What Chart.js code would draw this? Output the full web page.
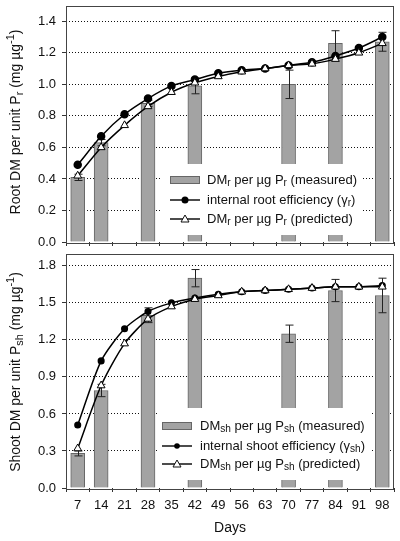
<!DOCTYPE html>
<html>
<head>
<meta charset="utf-8">
<script src="https://cdn.jsdelivr.net/npm/chart.js@4.4.0/dist/chart.umd.min.js"></script>
<style>
  body { margin: 0; background: #fff; }
  #wrap { position: relative; width: 400px; height: 541px; }
  canvas { position: absolute; left: 0; }
</style>
</head>
<body>
<div id="wrap">
  <canvas id="rootChart" width="400" height="248" style="top:0"></canvas>
  <canvas id="shootChart" width="400" height="293" style="top:248px"></canvas>
</div>
<script>
// data
const days = [7, 14, 21, 28, 35, 42, 49, 56, 63, 70, 77, 84, 91, 98];

const rootMeasured    = [0.41, 0.63, null, 0.88, null, 0.99, null, null, null, 1.00, null, 1.26, null, 1.27];
const rootMeasuredErr = [0.02, 0.02, null, 0.02, null, 0.05, null, null, null, 0.09, null, 0.08, null, 0.06];
const rootEfficiency  = [0.49, 0.67, 0.81, 0.91, 0.99, 1.03, 1.07, 1.09, 1.10, 1.12, 1.14, 1.18, 1.23, 1.30];
const rootPredicted   = [0.42, 0.60, 0.74, 0.86, 0.95, 1.01, 1.05, 1.08, 1.10, 1.12, 1.13, 1.16, 1.20, 1.26];

const shootMeasured    = [0.28, 0.79, null, 1.40, null, 1.70, null, null, null, 1.25, null, 1.60, null, 1.56];
const shootMeasuredErr = [0.02, 0.05, null, 0.06, null, 0.07, null, null, null, 0.07, null, 0.09, null, 0.14];
const shootEfficiency  = [0.51, 1.03, 1.29, 1.43, 1.50, 1.54, 1.57, 1.59, 1.60, 1.61, 1.62, 1.63, 1.63, 1.64];
const shootPredicted   = [0.32, 0.83, 1.17, 1.37, 1.47, 1.53, 1.56, 1.59, 1.60, 1.61, 1.62, 1.63, 1.63, 1.63];

const rootTicks  = [0, 0.2, 0.4, 0.6, 0.8, 1.0, 1.2, 1.4];
const shootTicks = [0, 0.3, 0.6, 0.9, 1.2, 1.5, 1.8];

const FONT = "'Liberation Sans', Arial, sans-serif";
const BAR_FILL = '#a3a3a3';
const BAR_EDGE = '#666';

// text with sub/superscripts: parts = [[text, 'n'|'sub'|'sup'], ...]
function richWidth(ctx, parts, size) {
    let w = 0;
    parts.forEach(([t, k]) => {
        ctx.font = (k === 'n' ? size : size * 0.78) + 'px ' + FONT;
        w += ctx.measureText(t).width;
    });
    return w;
}
function drawRich(ctx, parts, x, y, size) {
    ctx.textBaseline = 'middle';
    ctx.textAlign = 'left';
    parts.forEach(([t, k]) => {
        const s = k === 'n' ? size : size * 0.78;
        ctx.font = s + 'px ' + FONT;
        const dy = k === 'sub' ? size * 0.28 : (k === 'sup' ? -size * 0.38 : 0);
        ctx.fillText(t, x, y + dy);
        x += ctx.measureText(t).width;
    });
}

const panelPlugin = {
    id: 'panel',
    afterDatasetDraw(chart, args, opts) {
        if (args.index !== 0) return;
        // error bars on the measured bars
        const ctx = chart.ctx, x = chart.scales.x, y = chart.scales.y;
        ctx.save();
        ctx.strokeStyle = '#222';
        ctx.lineWidth = 1;
        opts.values.forEach((v, i) => {
            const e = opts.errors[i];
            if (v == null || e == null) return;
            const px = Math.round(x.getPixelForValue(i)) + 0.5;
            const yt = y.getPixelForValue(v + e), yb = y.getPixelForValue(v - e);
            ctx.beginPath();
            ctx.moveTo(px, yt); ctx.lineTo(px, yb);
            ctx.moveTo(px - 4, yt); ctx.lineTo(px + 4, yt);
            ctx.moveTo(px - 4, yb); ctx.lineTo(px + 4, yb);
            ctx.stroke();
        });
        ctx.restore();
    },
    afterDatasetsDraw(chart, args, opts) {
        const ctx = chart.ctx, a = chart.chartArea, L = opts.legend;
        ctx.save();
        // legend box covers bars and grid
        ctx.fillStyle = '#fff';
        ctx.fillRect(L.x, L.y, L.w, L.h);
        L.rows.forEach((row, i) => {
            const ry = L.rowY[i];
            const sx = L.symX, sw = 30;
            if (i === 0) {
                ctx.fillStyle = BAR_FILL;
                ctx.fillRect(sx, ry - 4, sw, 8);
                ctx.strokeStyle = BAR_EDGE;
                ctx.strokeRect(sx + 0.5, ry - 3.5, sw - 1, 7);
            } else {
                ctx.strokeStyle = '#111';
                ctx.lineWidth = 1.5;
                ctx.beginPath();
                ctx.moveTo(sx, ry); ctx.lineTo(sx + sw, ry);
                ctx.stroke();
                ctx.lineWidth = 1;
                const cx = sx + sw / 2;
                if (i === 1) {
                    ctx.fillStyle = '#000';
                    ctx.beginPath(); ctx.arc(cx, ry, L.dot, 0, Math.PI * 2); ctx.fill();
                } else {
                    const r = 4;
                    ctx.fillStyle = '#fff';
                    ctx.beginPath();
                    ctx.moveTo(cx, ry - r); ctx.lineTo(cx + r, ry + r * 0.75); ctx.lineTo(cx - r, ry + r * 0.75);
                    ctx.closePath(); ctx.fill(); ctx.stroke();
                }
            }
            ctx.fillStyle = '#111';
            drawRich(ctx, row, L.textX, ry, 13);
        });
        // frame round the plot
        ctx.strokeStyle = '#444';
        ctx.lineWidth = 1;
        ctx.strokeRect(Math.round(a.left) + 0.5, Math.round(a.top) + 0.5,
                       Math.round(a.right - a.left) - 1, Math.round(a.bottom - a.top));
        ctx.restore();
    },
    afterDraw(chart, args, opts) {
        const ctx = chart.ctx;
        ctx.save();
        ctx.fillStyle = '#111';
        const w = richWidth(ctx, opts.yTitle, 14);
        ctx.translate(16, opts.yTitleY);
        ctx.rotate(-Math.PI / 2);
        drawRich(ctx, opts.yTitle, -w / 2, 0, 14);
        ctx.restore();
        if (opts.xTitle) {
            ctx.save();
            ctx.fillStyle = '#111';
            ctx.font = '14px ' + FONT;
            ctx.textAlign = 'center';
            ctx.textBaseline = 'middle';
            ctx.fillText(opts.xTitle, (chart.chartArea.left + chart.chartArea.right) / 2, opts.xTitleY);
            ctx.restore();
        }
    }
};

function makePanel(id, cfg) {
    const ctx = document.getElementById(id).getContext('2d');
    return new Chart(ctx, {
        type: 'bar',
        data: {
            labels: days,
            datasets: [{
                type: 'bar',
                data: cfg.measured,
                backgroundColor: BAR_FILL,
                borderColor: BAR_EDGE,
                borderWidth: 1,
                barThickness: 14,
                order: 3
            }, {
                type: 'line',
                data: cfg.efficiency,
                borderColor: '#000',
                borderWidth: 1.5,
                tension: 0.25,
                pointStyle: 'circle',
                pointRadius: cfg.dot,
                pointBackgroundColor: '#000',
                pointBorderColor: '#000',
                order: 2
            }, {
                type: 'line',
                data: cfg.predicted,
                borderColor: '#000',
                borderWidth: 1.5,
                tension: 0.25,
                pointStyle: 'triangle',
                pointRadius: 4.5,
                pointBackgroundColor: '#fff',
                pointBorderColor: '#000',
                pointBorderWidth: 1,
                order: 1
            }]
        },
        options: {
            responsive: false,
            animation: false,
            layout: { padding: { top: cfg.padTop, right: 6, left: 0, bottom: 0 } },
            plugins: {
                legend: { display: false },
                tooltip: { enabled: false },
                panel: {
                    values: cfg.measured,
                    errors: cfg.errors,
                    legend: cfg.legend,
                    yTitle: cfg.yTitle,
                    yTitleY: cfg.yTitleY,
                    xTitle: cfg.xTitle,
                    xTitleY: cfg.xTitleY
                }
            },
            scales: {
                x: {
                    type: 'category',
                    offset: true,
                    grid: { drawOnChartArea: false, drawTicks: true, tickLength: 4, tickColor: '#333' },
                    border: { display: false },
                    ticks: {
                        display: cfg.showX,
                        padding: 6,
                        color: '#111',
                        font: { family: FONT, size: 13 }
                    },
                    afterFit: s => { s.height = cfg.xHeight; s.paddingLeft = 0; s.paddingRight = 0; }
                },
                y: {
                    min: 0,
                    max: cfg.yMax,
                    afterBuildTicks: s => { s.ticks = cfg.ticks.map(v => ({ value: v })); },
                    grid: {
                        color: c => (c.tick && c.tick.value === 0) ? 'rgba(0,0,0,0)' : '#111',
                        tickColor: '#333',
                        tickLength: 4,
                        lineWidth: 1
                    },
                    border: { display: false, dash: [1, 2] },
                    ticks: {
                        padding: 6,
                        color: '#111',
                        font: { family: FONT, size: 13 },
                        callback: v => Number(v).toFixed(1)
                    },
                    afterFit: s => { s.width = 66; s.paddingTop = 0; s.paddingBottom = 0; }
                }
            }
        },
        plugins: [panelPlugin]
    });
}

document.addEventListener('DOMContentLoaded', () => {
    makePanel('rootChart', {
        measured: rootMeasured, errors: rootMeasuredErr,
        efficiency: rootEfficiency, predicted: rootPredicted,
        ticks: rootTicks, yMax: 1.5, padTop: 3, xHeight: 6, showX: false, dot: 3.5,
        yTitle: [['Root DM per unit P', 'n'], ['r', 'sub'], [' (mg \u00b5g', 'n'], ['-1', 'sup'], [')', 'n']],
        yTitleY: 122,
        legend: {
            x: 160, y: 164, w: 203, h: 71, symX: 170, textX: 207, dot: 3.5,
            rowY: [180, 200, 219],
            rows: [
                [['DM', 'n'], ['r', 'sub'], [' per \u00b5g P', 'n'], ['r', 'sub'], [' (measured)', 'n']],
                [['internal root efficiency (\u03b3', 'n'], ['r', 'sub'], [')', 'n']],
                [['DM', 'n'], ['r', 'sub'], [' per \u00b5g P', 'n'], ['r', 'sub'], [' (predicted)', 'n']]
            ]
        }
    });
    makePanel('shootChart', {
        measured: shootMeasured, errors: shootMeasuredErr,
        efficiency: shootEfficiency, predicted: shootPredicted,
        ticks: shootTicks, yMax: 1.9, padTop: 2, xHeight: 53, showX: true, dot: 2.8,
        yTitle: [['Shoot DM per unit P', 'n'], ['sh', 'sub'], [' (mg \u00b5g', 'n'], ['-1', 'sup'], [')', 'n']],
        yTitleY: 124,
        xTitle: 'Days', xTitleY: 280,
        legend: {
            x: 157, y: 160, w: 215, h: 72, symX: 162, textX: 200, dot: 2.8,
            rowY: [178, 198, 216],
            rows: [
                [['DM', 'n'], ['sh', 'sub'], [' per \u00b5g P', 'n'], ['sh', 'sub'], [' (measured)', 'n']],
                [['internal shoot efficiency (\u03b3', 'n'], ['sh', 'sub'], [')', 'n']],
                [['DM', 'n'], ['sh', 'sub'], [' per \u00b5g P', 'n'], ['sh', 'sub'], [' (predicted)', 'n']]
            ]
        }
    });
});
</script>
</body>
</html>
